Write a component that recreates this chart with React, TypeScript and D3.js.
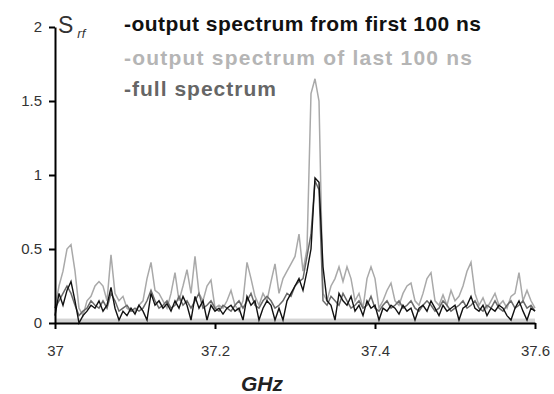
import React, { useEffect, useRef } from 'react';
import * as d3 from 'd3';

const W = 554;
const H = 394;

// frequency grid (GHz): 37.000, 37.005, ... 37.600
const FREQ_START = 37;
const FREQ_STEP = 0.005;

const xTicks = [37, 37.2, 37.4, 37.6];
const yTicks = [0, 0.5, 1, 1.5, 2];
const legendLabels = [
  '-output spectrum from first 100 ns',
  '-output spectrum of last 100 ns',
  '-full spectrum',
];

// output spectrum of last 100 ns (light grey)
const lastValues = [
  0.1, 0.25, 0.35, 0.5, 0.53, 0.35, 0.1, 0.05, 0.15, 0.18,
  0.25, 0.28, 0.25, 0.15, 0.46, 0.2, 0.15, 0.18, 0.1, 0.08,
  0.08, 0.12, 0.15, 0.3, 0.41, 0.22, 0.2, 0.15, 0.1, 0.2,
  0.34, 0.15, 0.25, 0.36, 0.2, 0.45, 0.2, 0.15, 0.25, 0.29,
  0.1, 0.12, 0.1, 0.15, 0.22, 0.12, 0.08, 0.15, 0.41, 0.3,
  0.18, 0.12, 0.2, 0.15, 0.28, 0.4, 0.2, 0.3, 0.35, 0.4,
  0.45, 0.6, 0.35, 0.5, 1.55, 1.65, 1.5, 0.2, 0.15, 0.25,
  0.3, 0.38, 0.28, 0.38, 0.3, 0.15, 0.2, 0.1, 0.3, 0.38,
  0.3, 0.1, 0.15, 0.22, 0.27, 0.15, 0.12, 0.2, 0.25, 0.27,
  0.15, 0.12, 0.2, 0.3, 0.34, 0.15, 0.12, 0.19, 0.12, 0.22,
  0.15, 0.18, 0.25, 0.35, 0.41, 0.2, 0.12, 0.17, 0.1, 0.15,
  0.2, 0.12, 0.15, 0.1, 0.18, 0.2, 0.34, 0.15, 0.22, 0.15,
  0.1,
];

// full spectrum (dark grey)
const fullValues = [
  0.1, 0.15, 0.2, 0.25, 0.2, 0.12, 0.05, 0.08, 0.1, 0.15,
  0.12, 0.1, 0.15, 0.1, 0.2, 0.15, 0.08, 0.1, 0.12, 0.08,
  0.1, 0.08, 0.1, 0.15, 0.22, 0.15, 0.1, 0.12, 0.15, 0.1,
  0.12, 0.18, 0.12, 0.15, 0.1, 0.15, 0.2, 0.1, 0.12, 0.15,
  0.1, 0.08, 0.12, 0.1, 0.08, 0.12, 0.15, 0.1, 0.15, 0.2,
  0.12, 0.1, 0.15, 0.18, 0.15, 0.1, 0.12, 0.15, 0.2, 0.18,
  0.25, 0.28, 0.3, 0.45, 0.6, 0.96, 0.9, 0.15, 0.12, 0.18,
  0.15, 0.12, 0.2, 0.15, 0.1, 0.12, 0.15, 0.1, 0.12, 0.18,
  0.1, 0.08, 0.12, 0.15, 0.1, 0.12, 0.15, 0.1, 0.12, 0.15,
  0.1, 0.08, 0.12, 0.15, 0.12, 0.08, 0.1, 0.15, 0.12, 0.08,
  0.1, 0.12, 0.15, 0.1, 0.12, 0.15, 0.1, 0.08, 0.12, 0.1,
  0.15, 0.1, 0.08, 0.12, 0.15, 0.1, 0.12, 0.15, 0.1, 0.12,
  0.08,
];

// output spectrum from first 100 ns (black)
const firstValues = [
  0.05, 0.2, 0.12, 0.22, 0.28, 0.15, 0.0, 0.05, 0.08, 0.12,
  0.1, 0.15, 0.08, 0.12, 0.24, 0.1, 0.02, 0.08, 0.05, 0.1,
  0.06, 0.12, 0.08, 0.02, 0.2, 0.12, 0.15, 0.1, 0.13, 0.08,
  0.15, 0.1, 0.18, 0.12, 0.02, 0.18, 0.1, 0.15, 0.02, 0.12,
  0.08, 0.1, 0.06, 0.1, 0.12, 0.08, 0.1, 0.02, 0.18, 0.12,
  0.15, 0.02, 0.1, 0.15, 0.12, 0.02, 0.1, 0.02, 0.15, 0.2,
  0.25, 0.3, 0.22, 0.35, 0.5, 0.98, 0.95, 0.38, 0.15, 0.12,
  0.02, 0.2, 0.15, 0.12, 0.18, 0.08, 0.12, 0.05, 0.15, 0.1,
  0.12, 0.02, 0.1, 0.08, 0.12, 0.1, 0.06, 0.12, 0.08, 0.1,
  0.02, 0.1, 0.12, 0.08, 0.15, 0.1, 0.05, 0.12, 0.08, 0.1,
  0.12, 0.02, 0.1, 0.12, 0.18, 0.1, 0.08, 0.12, 0.05, 0.1,
  0.08, 0.12, 0.1, 0.05, 0.02, 0.1, 0.15, 0.08, 0.02, 0.1,
  0.08,
];

const FONT = 'Arial, "Liberation Sans", sans-serif';

export default function App() {
  const svgRef = useRef<SVGSVGElement>(null);

  useEffect(() => {
    const svg = d3.select(svgRef.current);
    svg.selectAll('*').remove();
    svg.attr('width', W).attr('height', H);

    const x = d3.scaleLinear().domain([37, 37.6]).range([55, 535]);
    const y = d3.scaleLinear().domain([0, 2]).range([323, 27]);
    const freq = (i: number) => FREQ_START + i * FREQ_STEP;

    svg.append('rect').attr('width', W).attr('height', H).attr('fill', '#fff');

    // grey floor band just above the axis
    svg.append('rect')
      .attr('x', x(37)).attr('width', x(37.6) - x(37))
      .attr('y', y(0.03)).attr('height', y(0) - y(0.03))
      .attr('fill', '#d4d4d4');

    const line = d3.line<number>().x((d, i) => x(freq(i))).y(d => y(d));

    svg.append('path').datum(lastValues).attr('d', line)
      .attr('fill', 'none').attr('stroke', '#a9a9a9').attr('stroke-width', 1.5);
    svg.append('path').datum(fullValues).attr('d', line)
      .attr('fill', 'none').attr('stroke', '#6a6a6a').attr('stroke-width', 1.5);
    svg.append('path').datum(firstValues).attr('d', line)
      .attr('fill', 'none').attr('stroke', '#111').attr('stroke-width', 1.4);

    // axes
    const yAxis = svg.append('g').attr('transform', `translate(${x(37)},0)`)
      .call(d3.axisLeft(y).tickValues(yTicks).tickSize(6).tickSizeOuter(0)
        .tickFormat(d => String(d)));
    yAxis.select('.domain').attr('stroke', '#000').attr('stroke-width', 2);
    yAxis.selectAll('.tick line').attr('stroke', '#000').attr('stroke-width', 2);
    yAxis.selectAll('.tick text').attr('font-family', FONT).attr('font-size', 15)
      .attr('fill', '#333').attr('x', -13);

    const xAxis = svg.append('g').attr('transform', `translate(0,${y(0)})`)
      .call(d3.axisBottom(x).tickValues(xTicks).tickSize(6).tickSizeOuter(0)
        .tickFormat(d => String(d)));
    xAxis.select('.domain').attr('stroke', '#000').attr('stroke-width', 2);
    xAxis.selectAll('.tick line').attr('stroke', '#000').attr('stroke-width', 2);
    xAxis.selectAll('.tick text').attr('font-family', FONT).attr('font-size', 15)
      .attr('fill', '#333').attr('y', 22);

    // axis titles
    const sLabel = svg.append('text').attr('x', 58).attr('y', 33)
      .attr('font-family', FONT).attr('fill', '#333');
    sLabel.append('tspan').attr('font-size', 23).text('S');
    sLabel.append('tspan').attr('font-size', 13).attr('font-style', 'italic')
      .attr('dx', 4).attr('dy', 5).text('rf');

    svg.append('text').attr('x', 262).attr('y', 391).attr('text-anchor', 'middle')
      .attr('font-family', FONT).attr('font-size', 21).attr('font-style', 'italic')
      .attr('font-weight', 'bold').attr('fill', '#222').text('GHz');

    // legend text
    const legendColors = ['#111', '#b5b5b5', '#666'];
    const legendWidths = [357, 348, 152];
    const legendY = [31, 65, 96];
    legendLabels.forEach((t, i) => {
      svg.append('text').attr('x', 124).attr('y', legendY[i])
        .attr('font-family', FONT).attr('font-size', 21).attr('font-weight', 'bold')
        .attr('fill', legendColors[i])
        .attr('textLength', legendWidths[i]).attr('lengthAdjust', 'spacing')
        .text(t);
    });
  }, []);

  return (
    <div style={{ position: 'fixed', left: 0, top: 0 }}>
      <svg ref={svgRef} style={{ display: 'block' }} />
    </div>
  );
}
